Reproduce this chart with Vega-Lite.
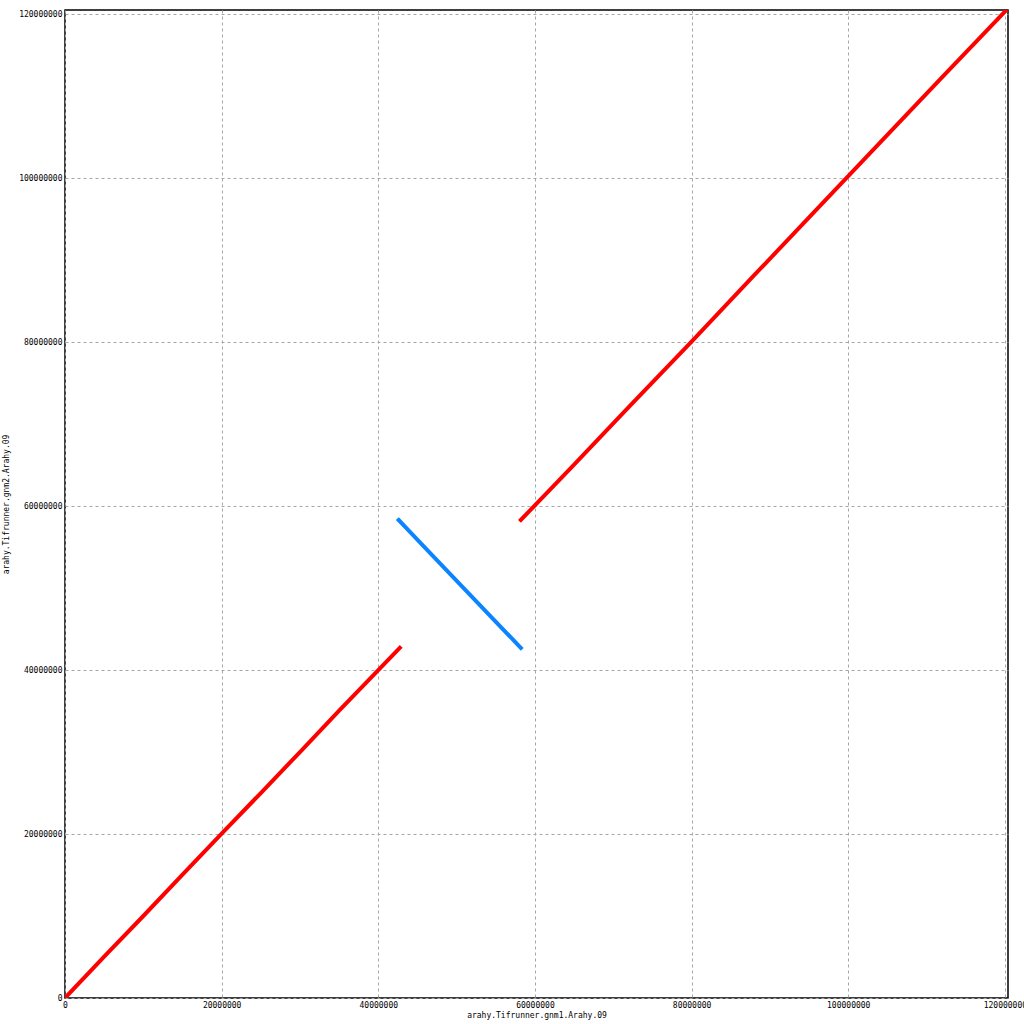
{
  "$schema": "https://vega.github.io/schema/vega-lite/v6.json",
  "width": 943,
  "height": 988,
  "autosize": "none",
  "padding": {"left": 65, "top": 10, "right": 16, "bottom": 26},
  "background": "white",
  "config": {
    "view": {"stroke": "black", "strokeWidth": 1.5},
    "axis": {
      "labelFont": "DejaVu Sans Mono",
      "labelFontSize": 8,
      "labelColor": "black",
      "titleFont": "DejaVu Sans Mono",
      "titleFontSize": 8,
      "titleFontWeight": "normal",
      "titleColor": "black",
      "grid": true,
      "gridColor": "#a6a6a6",
      "gridDash": [3, 3],
      "gridWidth": 1,
      "domain": false,
      "ticks": false,
      "labelPadding": 3
    }
  },
  "data": {
    "values": [
      {"seg": "a", "strand": "+", "q": 0, "t": 0},
      {"seg": "a", "strand": "+", "q": 5000000, "t": 5050000},
      {"seg": "a", "strand": "+", "q": 10000000, "t": 10000000},
      {"seg": "a", "strand": "+", "q": 15000000, "t": 15050000},
      {"seg": "a", "strand": "+", "q": 20000000, "t": 20050000},
      {"seg": "a", "strand": "+", "q": 25000000, "t": 25000000},
      {"seg": "a", "strand": "+", "q": 30000000, "t": 30000000},
      {"seg": "a", "strand": "+", "q": 35000000, "t": 35050000},
      {"seg": "a", "strand": "+", "q": 40000000, "t": 40000000},
      {"seg": "a", "strand": "+", "q": 42750000, "t": 42700000},
      {"seg": "b", "strand": "-", "q": 42600000, "t": 58300000},
      {"seg": "b", "strand": "-", "q": 43500000, "t": 57400000},
      {"seg": "b", "strand": "-", "q": 45500000, "t": 55400000},
      {"seg": "b", "strand": "-", "q": 48000000, "t": 52900000},
      {"seg": "b", "strand": "-", "q": 50500000, "t": 50400000},
      {"seg": "b", "strand": "-", "q": 53000000, "t": 47900000},
      {"seg": "b", "strand": "-", "q": 55500000, "t": 45400000},
      {"seg": "b", "strand": "-", "q": 58200000, "t": 42700000},
      {"seg": "c", "strand": "+", "q": 58200000, "t": 58300000},
      {"seg": "c", "strand": "+", "q": 65000000, "t": 65050000},
      {"seg": "c", "strand": "+", "q": 72000000, "t": 72100000},
      {"seg": "c", "strand": "+", "q": 80000000, "t": 80050000},
      {"seg": "c", "strand": "+", "q": 88000000, "t": 88150000},
      {"seg": "c", "strand": "+", "q": 96000000, "t": 96200000},
      {"seg": "c", "strand": "+", "q": 104000000, "t": 104250000},
      {"seg": "c", "strand": "+", "q": 112000000, "t": 112300000},
      {"seg": "c", "strand": "+", "q": 120100000, "t": 120400000}
    ]
  },
  "mark": {"type": "line", "strokeWidth": 4, "strokeCap": "square", "clip": true},
  "encoding": {
    "x": {
      "field": "q", "type": "quantitative",
      "scale": {"domain": [0, 120400000], "nice": false, "zero": false},
      "axis": {"values": [0, 20000000, 40000000, 60000000, 80000000, 100000000, 120000000], "format": "d", "title": "arahy.Tifrunner.gnm1.Arahy.09", "titlePadding": 2, "labelFlush": false}
    },
    "y": {
      "field": "t", "type": "quantitative",
      "scale": {"domain": [0, 120500000], "nice": false, "zero": false},
      "axis": {"values": [0, 20000000, 40000000, 60000000, 80000000, 100000000, 120000000], "format": "d", "title": "arahy.Tifrunner.gnm2.Arahy.09", "titlePadding": 8, "labelFlush": false}
    },
    "detail": {"field": "seg"},
    "order": {"field": "q", "type": "quantitative"},
    "color": {
      "field": "strand", "type": "nominal",
      "scale": {"domain": ["+", "-"], "range": ["#ff0000", "#0a84ff"]},
      "legend": null
    }
  }
}
